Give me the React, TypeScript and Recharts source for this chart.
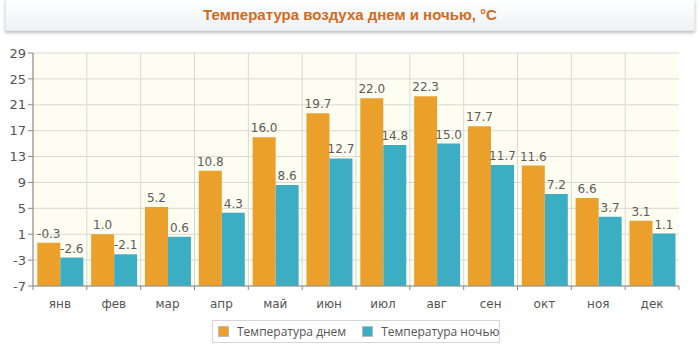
import { BarChart, Bar, XAxis, YAxis, CartesianGrid, LabelList } from 'recharts'

const months = ['янв', 'фев', 'мар', 'апр', 'май', 'июн', 'июл', 'авг', 'сен', 'окт', 'ноя', 'дек']
const dayTemps = [-0.3, 1.0, 5.2, 10.8, 16.0, 19.7, 22.0, 22.3, 17.7, 11.6, 6.6, 3.1]
const nightTemps = [-2.6, -2.1, 0.6, 4.3, 8.6, 12.7, 14.8, 15.0, 11.7, 7.2, 3.7, 1.1]
const yTicks = [-7, -3, 1, 5, 9, 13, 17, 21, 25, 29]
const title = 'Температура воздуха днем и ночью, °C'
const seriesNames = ['Температура днем', 'Температура ночью']

const colors = {
  day: '#EBA02B',
  night: '#3BAEC4',
  plotBg: '#FEFDF1',
  grid: '#D9D9D2',
  axis: '#8A8A8A',
  text: '#555555',
  title: '#D5691C',
}

const font = '"DejaVu Sans", Verdana, sans-serif'
const BASE = -7

const data = months.map((m, i) => ({ month: m, day: dayTemps[i], night: nightTemps[i] }))

function XTick(props: any) {
  const { x, y, payload, bandSize } = props
  return (
    <g>
      <line x1={x - bandSize / 2} x2={x - bandSize / 2} y1={y - 8} y2={y - 4} stroke={colors.axis} />
      {payload.index === months.length - 1 && (
        <line x1={x + bandSize / 2} x2={x + bandSize / 2} y1={y - 8} y2={y - 4} stroke={colors.axis} />
      )}
      <text x={x} y={y + 14} textAnchor="middle" fill={colors.text} fontSize={12} fontFamily={font}>
        {payload.value}
      </text>
    </g>
  )
}

export default function App() {
  const plotWidth = 646
  const band = plotWidth / months.length
  return (
    <div style={{ position: 'fixed', left: 0, top: 0, width: 700, height: 355, background: '#fff' }}>
      <div
        style={{
          position: 'absolute', left: 5, top: 0, width: 688, height: 30,
          background: 'linear-gradient(#ffffff, #eef2f5)',
          border: '1px solid #e4e8ec', borderTop: 'none',
          boxShadow: '0 2px 3px rgba(0,0,0,0.25)',
          textAlign: 'center', lineHeight: '29px',
          fontFamily: '"Liberation Sans", Arial, sans-serif', fontWeight: 'bold', fontSize: 15,
          color: colors.title,
        }}
      >
        {title}
      </div>
      <BarChart
        width={700}
        height={355}
        data={data}
        margin={{ top: 53, right: 21, bottom: 39, left: 0 }}
        barCategoryGap="8%"
        barGap={0}
      >
        <CartesianGrid
          stroke={colors.grid}
          fill={colors.plotBg}
          verticalCoordinatesGenerator={({ offset }: any) =>
            months.map((_, i) => offset.left + (offset.width / months.length) * i)
          }
        />
        <XAxis
          dataKey="month"
          axisLine={{ stroke: colors.axis }}
          tickLine={false}
          height={30}
          interval={0}
          tick={(p: any) => <XTick {...p} bandSize={band} />}
        />
        <XAxis xAxisId="top" orientation="top" dataKey="month" height={0} tick={false} tickLine={false} axisLine={{ stroke: colors.axis }} />
        <YAxis
          domain={[BASE, 29]}
          ticks={yTicks}
          interval={0}
          width={33}
          allowDataOverflow
          axisLine={{ stroke: colors.axis }}
          tickLine={{ stroke: colors.axis }}
          tickSize={5}
          tick={{ fill: colors.text, fontSize: 13, fontFamily: font }}
        />
        <YAxis yAxisId="right" orientation="right" width={0} tick={false} tickLine={false} axisLine={{ stroke: colors.axis, strokeWidth: 2 }} />
        <Bar dataKey={(d: any) => [BASE, d.day]} name={seriesNames[0]} fill={colors.day} isAnimationActive={false}>
          <LabelList dataKey="day" position="top" offset={5} formatter={(v: any) => Number(v).toFixed(1)} fill="#5c5c5c" fontSize={12} fontFamily={font} />
        </Bar>
        <Bar dataKey={(d: any) => [BASE, d.night]} name={seriesNames[1]} fill={colors.night} isAnimationActive={false}>
          <LabelList dataKey="night" position="top" offset={5} formatter={(v: any) => Number(v).toFixed(1)} fill="#5c5c5c" fontSize={12} fontFamily={font} />
        </Bar>
      </BarChart>
      <div
        style={{
          position: 'absolute', left: 212, top: 320, width: 288, height: 23, boxSizing: 'border-box',
          padding: '0 0 0 5px', border: '1px solid #d6d6d6', display: 'flex', alignItems: 'center', gap: 16,
          fontFamily: '"Open Sans", sans-serif', fontSize: 12, color: colors.text, background: '#fff',
        }}
      >
        {seriesNames.map((n, i) => (
          <span key={n} style={{ display: 'flex', alignItems: 'center', gap: 8, whiteSpace: 'nowrap' }}>
            <span style={{ width: 11, height: 11, background: i === 0 ? colors.day : colors.night, border: '1px solid #bbb', boxSizing: 'border-box' }} />
            {n}
          </span>
        ))}
      </div>
    </div>
  )
}
